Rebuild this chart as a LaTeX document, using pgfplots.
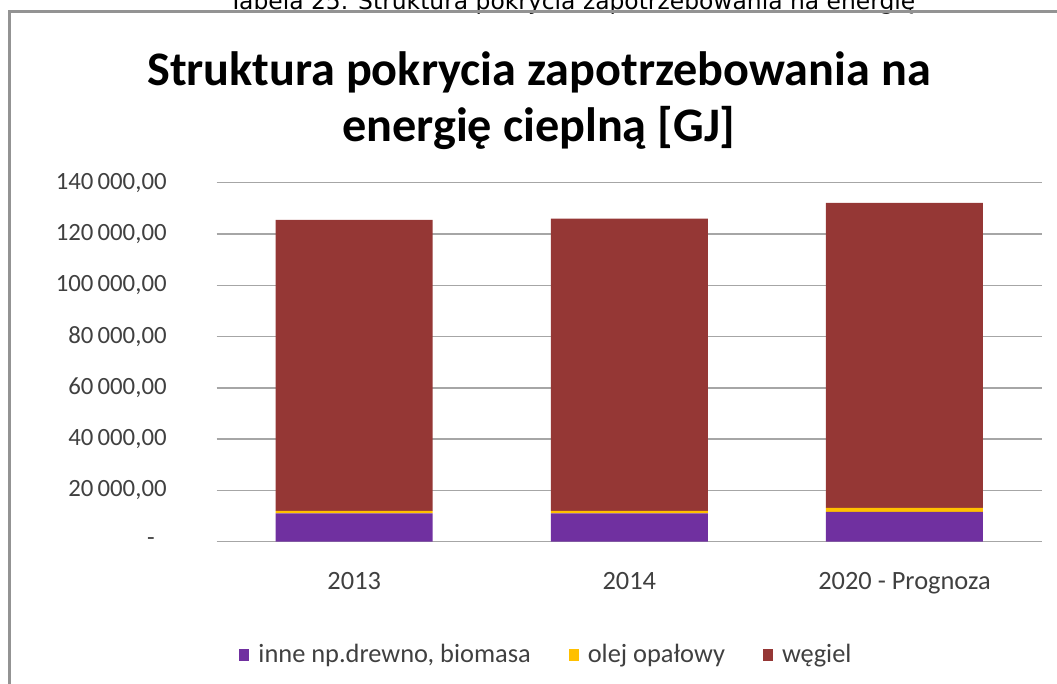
\documentclass[border=0pt]{standalone}
\usepackage{fontspec}
\setmainfont{Carlito}
\newfontfamily\capfont{DejaVu Sans}
\usepackage{pgfplots}
\pgfplotsset{compat=1.18}
\definecolor{inne}{HTML}{7030A0}
\definecolor{olej}{HTML}{FFC000}
\definecolor{wegiel}{HTML}{953735}
\definecolor{ticktext}{HTML}{404040}

\begin{document}
\begin{tikzpicture}
\useasboundingbox (0,0) rectangle (528.5pt,342pt);
\clip (0,0) rectangle (528.5pt,342pt);
% caption of the table, cut off by the top edge
\node[anchor=base, inner sep=0, font=\capfont\fontsize{11.7}{13}\selectfont]
  at (286pt,337.2pt) {Tabela 25. Struktura pokrycia zapotrzebowania na energię};
% chart frame
\draw[gray!85, line width=1.5pt] (4.6pt,-5pt) -- (4.6pt,336pt) -- (540pt,336pt);
% title
\node[anchor=base, inner sep=0, font=\bfseries\fontsize{24.1}{28}\selectfont]
  at (269.5pt,299pt) {Struktura pokrycia zapotrzebowania na};
\node[anchor=base, inner sep=0, font=\bfseries\fontsize{24.1}{28}\selectfont]
  at (269.5pt,271pt) {energię cieplną [GJ]};

\begin{axis}[
    at={(108.35pt,71.15pt)}, anchor=south west,
    scale only axis,
    width=412.65pt, height=179.5pt,
    ybar stacked, bar width=78.5pt,
    xmin=-0.5, xmax=2.5,
    ymin=0, ymax=140000,
    xtick={0,1,2},
    xticklabels={2013,2014,2020 - Prognoza},
    ytick={0,20000,40000,60000,80000,100000,120000,140000},
    yticklabels={{-\rule{6pt}{0pt}},{20\,000,00},{40\,000,00},{60\,000,00},{80\,000,00},{100\,000,00},{120\,000,00},{140\,000,00}},
    scaled y ticks=false,
    ymajorgrids,
    grid style={color=gray!70, line width=0.75pt},
    axis line style={draw=none},
    major tick length=0pt,
    tick label style={text=ticktext},
    xticklabel style={font=\fontsize{13.2}{15}\selectfont, yshift=-12pt},
    yticklabel style={font=\fontsize{12.4}{15}\selectfont, xshift=-21.5pt},
    legend style={at={(0.4008,-0.3156)}, anchor=center, draw=none, fill=none,
        font=\fontsize{13.2}{15}\selectfont, text=ticktext,
        /tikz/every odd column/.append style={column sep=2.5pt},
        /tikz/every even column/.append style={column sep=17pt}},
    legend columns=-1,
    legend image code/.code={\fill[#1] (0pt,-3pt) rectangle (5pt,3pt);},
]
\addplot[fill=inne, draw=none] coordinates {(0,11050) (1,11050) (2,11670)};
\addlegendentry{inne np.drewno, biomasa}
\addplot[fill=olej, draw=none] coordinates {(0,1000) (1,1000) (2,1560)};
\addlegendentry{olej opałowy}
\addplot[fill=wegiel, draw=none] coordinates {(0,113450) (1,113950) (2,118870)};
\addlegendentry{węgiel}
\end{axis}
\end{tikzpicture}
\end{document}
